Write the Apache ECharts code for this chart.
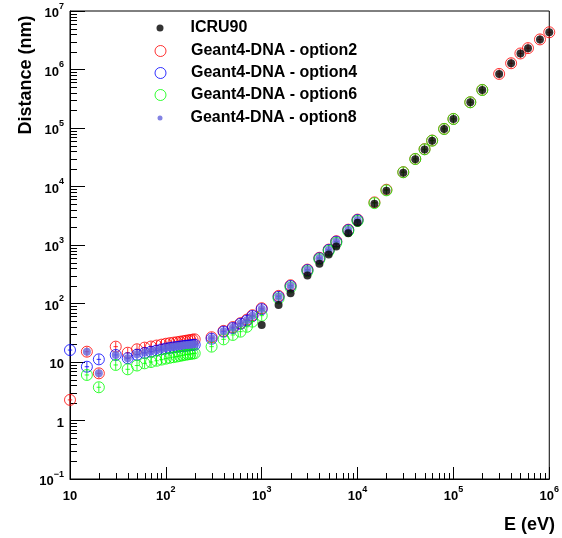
<!DOCTYPE html>
<html><head><meta charset="utf-8">
<script src="https://cdn.jsdelivr.net/npm/echarts@6/dist/echarts.min.js"></script>
<style>html,body{margin:0;padding:0;background:#fff;}#c{width:562px;height:538px;}</style>
</head><body><div id="c"></div>
<script>
// ---- data (E in eV, distance in nm) ----
const E_icru = [1000,1500,2000,3000,4000,5000,6000,8000,10000,15000,20000,30000,40000,50000,60000,80000,100000,150000,200000,300000,400000,500000,600000,800000,1000000];
const D_icru = [43,94,150,300,480,690,940,1590,2400,5050,8500,17200,29200,43000,60500,96000,142000,275000,446000,838000,1280000,1870000,2310000,3270000,4330000];

const E_opt2 = [10,15,20,30,40,50,60,70,80,90,100,110,120,130,140,150,160,170,180,190,200,300,400,500,600,700,800,1000,1500,2000,3000,4000,5000,6000,8000,10000,15000,20000,30000,40000,50000,60000,80000,100000,150000,200000,300000,400000,500000,600000,800000,1000000];
const D_opt2 = [2.25,15.0,6.4,18.3,14.4,16.5,17.6,18.4,19.1,19.8,20.5,21.0,21.4,21.8,22.2,22.6,23.0,23.4,23.7,24.1,24.4,26.5,34,39.5,46,53,63,83,135,205,380,605,835,1160,1830,2720,5350,8800,17600,29600,43500,61000,96500,143000,276000,448000,840000,1280000,1880000,2320000,3270000,4330000];

const E_opt4 = [10,15,20,30,40,50,60,70,80,90,100,110,120,130,140,150,160,170,180,190,200,300,400,500,600,700,800,1000,1500,2000,3000,4000,5000,6000,8000,10000];
const D_opt4 = [16.0,8.3,11.1,13.2,11.6,13.3,14.3,15.0,15.7,16.4,17.0,17.4,17.8,18.1,18.4,18.7,18.9,19.1,19.3,19.5,19.7,25,33,38,45,51,61,80,130,199,372,593,822,1140,1800,2670];

const E_opt6 = [15,20,30,40,50,60,70,80,90,100,110,120,130,140,150,160,170,180,190,200,300,400,500,600,700,800,1000,1500,2000,3000,4000,5000,6000,8000,10000,15000,20000,30000,40000,50000,60000,80000,100000,150000,200000];
const D_opt6 = [6.0,3.7,8.9,7.5,8.7,9.5,10.0,10.5,11.0,11.4,11.8,12.1,12.4,12.7,13.0,13.3,13.5,13.7,13.9,14.1,18.3,24.4,29,33,40,49,62,122,188,355,570,790,1090,1730,2570,5200,8600,17500,29500,43200,60700,96200,142500,275000,446000];

const E_opt8 = [15,20,30,40,50,60,70,80,90,100,110,120,130,140,150,160,170,180,190,200,300,400,500,600,700,800,1000,1500,2000,3000,4000,5000,6000,8000,10000];
const D_opt8 = [15.0,6.4,13.2,11.6,13.6,14.6,15.3,16.0,16.7,17.3,17.8,18.2,18.5,18.8,19.1,19.3,19.5,19.7,19.9,20.1,25.5,33.5,38.5,45.5,51.5,61.5,80.5,130,199,372,593,822,1140,1800,2670];

const seriesNames = ['ICRU90','Geant4-DNA - option2','Geant4-DNA - option4','Geant4-DNA - option6','Geant4-DNA - option8'];
const xTitle = 'E (eV)';
const yTitle = 'Distance (nm)';

// ---- helpers ----
const FONT = 'Liberation Sans, Arial, Helvetica, sans-serif';
const zip = (xs, ys) => xs.map((x, i) => [x, ys[i]]);
const ring = 'path://M10,0A10,10,0,1,1,10,20A10,10,0,1,1,10,0ZM10,1L10,19M6,10L14,10';

const xMinor = [], yMinor = [];
for (let d = 1; d < 6; d++) for (let m = 2; m <= 9; m++) xMinor.push(m * Math.pow(10, d));
for (let d = -1; d < 7; d++) for (let m = 2; m <= 9; m++) yMinor.push(+(m * Math.pow(10, d)).toPrecision(3));

const fmt = v => {
  const e = Math.round(Math.log10(v));
  if (e === 0) return '{b|1}';
  if (e === 1) return '{b|10}';
  return '{b|10}{s|' + (e < 0 ? '\u2212' + (-e) : e) + '}';
};
const rich = {
  b: {fontSize: 13, fontWeight: 'bold', fontFamily: FONT, color: '#000', lineHeight: 18, verticalAlign: 'bottom'},
  s: {fontSize: 9, fontWeight: 'bold', fontFamily: FONT, color: '#000', lineHeight: 10, verticalAlign: 'top'}
};

const ringStyle = c => ({color: 'rgba(0,0,0,0)', borderColor: c, borderWidth: 1});

// icon centred at x=160, text starting at x≈190
const legendRow = (name, y, size, style) => ({
  top: y - 7, left: 160 - size / 2, padding: 0, orient: 'vertical',
  itemWidth: 51, itemHeight: size, selectedMode: false,
  textStyle: {fontFamily: FONT, fontWeight: 'bold', fontSize: 16, color: '#000'},
  data: [{name: name, icon: 'circle', itemStyle: style}]
});

const chart = echarts.init(document.getElementById('c'), null, {renderer: 'canvas'});
chart.setOption({
  animation: false,
  backgroundColor: '#fff',
  grid: {left: 70, right: 7, top: 11, bottom: 59, show: true, borderColor: '#000', borderWidth: 1, backgroundColor: 'transparent'},
  legend: [
    legendRow(seriesNames[0], 27, 7, {color: '#000', borderWidth: 0}),
    legendRow(seriesNames[1], 50, 11, ringStyle('#ff0000')),
    legendRow(seriesNames[2], 72, 11, ringStyle('#0000ff')),
    legendRow(seriesNames[3], 94, 11, ringStyle('#00ff00')),
    legendRow(seriesNames[4], 117, 5, {color: '#6464dc', borderWidth: 0})
  ],
  xAxis: {
    type: 'log', logBase: 10, min: 10, max: 1e6,
    axisLine: {lineStyle: {color: '#000', width: 1}},
    axisTick: {inside: true, length: 12, lineStyle: {color: '#000'}},
    axisLabel: {formatter: fmt, rich: rich, margin: 6, showMinLabel: true, showMaxLabel: true},
    splitLine: {show: false}
  },
  yAxis: {
    type: 'log', logBase: 10, min: 0.1, max: 1e7,
    axisLine: {lineStyle: {color: '#000', width: 1}},
    axisTick: {inside: true, length: 15, lineStyle: {color: '#000'}},
    axisLabel: {formatter: fmt, rich: rich, margin: 6},
    splitLine: {show: false}
  },
  graphic: [
    {type: 'text', x: 26, y: 75, rotation: Math.PI / 2,
     style: {text: yTitle, x: 0, y: 0, align: 'center', verticalAlign: 'middle', font: 'bold 18px ' + FONT, fill: '#000'}},
    {type: 'text', x: 555, y: 525,
     style: {text: xTitle, x: 0, y: 0, align: 'right', verticalAlign: 'middle', font: 'bold 18px ' + FONT, fill: '#000'}}
  ],
  series: [
    {type: 'custom', silent: true, clip: false, z: 1, data: xMinor.map(v => [v, 0.1]),
     renderItem: (p, api) => { const c = api.coord([api.value(0), api.value(1)]); const x = Math.round(c[0]) + 0.5;
       return {type: 'line', shape: {x1: x, y1: c[1], x2: x, y2: c[1] - 6}, style: {stroke: '#000', lineWidth: 1}}; }},
    {type: 'custom', silent: true, clip: false, z: 1, data: yMinor.map(v => [10, v]),
     renderItem: (p, api) => { const c = api.coord([api.value(0), api.value(1)]); const y = Math.round(c[1]) + 0.5;
       return {type: 'line', shape: {x1: c[0], y1: y, x2: c[0] + 7, y2: y}, style: {stroke: '#000', lineWidth: 1}}; }},
    {name: seriesNames[1], type: 'scatter', symbol: ring, symbolSize: 11, z: 2, data: zip(E_opt2, D_opt2), itemStyle: ringStyle('#ff0000')},
    {name: seriesNames[2], type: 'scatter', symbol: ring, symbolSize: 11, z: 3, data: zip(E_opt4, D_opt4), itemStyle: ringStyle('#0000ff')},
    {name: seriesNames[3], type: 'scatter', symbol: ring, symbolSize: 11, z: 4, data: zip(E_opt6, D_opt6), itemStyle: ringStyle('#00ff00')},
    {name: seriesNames[4], type: 'scatter', symbol: 'circle', symbolSize: 8, z: 5, data: zip(E_opt8, D_opt8), itemStyle: {color: '#6464dc'}},
    {name: seriesNames[0], type: 'scatter', symbol: 'circle', symbolSize: 8, z: 6, data: zip(E_icru, D_icru), itemStyle: {color: '#000'}}
  ]
});
</script>
</body></html>
